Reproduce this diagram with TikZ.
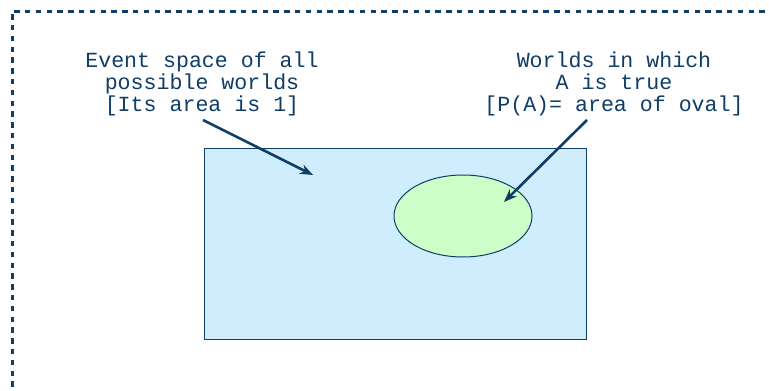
\documentclass[tikz,border=0pt]{standalone}
\usepackage{fontspec}
\setmonofont{Liberation Mono}
\usetikzlibrary{arrows.meta}
\definecolor{navy}{HTML}{0F3D66}
\definecolor{sky}{HTML}{CFEDFD}
\definecolor{mint}{HTML}{CCFFC8}
\begin{document}
\begin{tikzpicture}[x=1pt,y=-1pt,
    note/.style={align=center,text=navy,inner sep=0pt,font=\ttfamily\fontsize{21.6}{22}\selectfont},
    pointer/.style={navy,line width=2.6pt,-{Stealth[length=13pt,width=10pt]}}]
    \useasboundingbox (0,0) rectangle (769,391);
    \draw[navy,line width=3pt,dash pattern=on 5.4pt off 5.4pt] (12,430) -- (12,11) -- (800,11);
    \draw[navy,line width=1pt,fill=sky] (204,148) rectangle (586,339);
    \draw[navy,line width=1pt,fill=mint] (463,216) circle [x radius=69pt,y radius=41pt];
    \node[note] (space) at (202,84) {Event space of all\\possible worlds\\{[Its area is 1]}};
    \node[note] (worlds) at (614,84) {Worlds in which\\A is true\\{[P(A)= area of oval]}};
    \coordinate (spacetail) at (203,120);
    \coordinate (spacehead) at (313,175);
    \coordinate (worldstail) at (587,120);
    \coordinate (worldshead) at (504,202);
    \draw[pointer] (spacetail) -- (spacehead);
    \draw[pointer] (worldstail) -- (worldshead);
\end{tikzpicture}
\end{document}
